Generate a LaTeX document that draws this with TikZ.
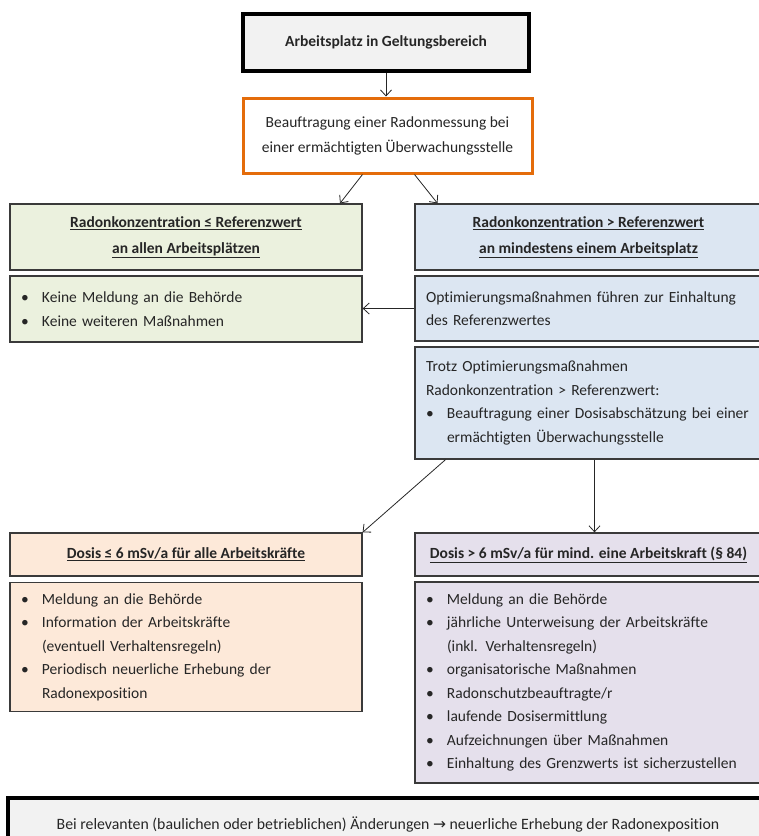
\documentclass[tikz,border=0pt]{standalone}
\usepackage{fontspec}
\setmainfont{Carlito}[Ligatures={NoCommon}]
\newfontfamily\dejavu{DejaVu Sans}
\usetikzlibrary{arrows.meta,calc}
\definecolor{greyfill}{HTML}{F2F2F2}
\definecolor{greenfill}{HTML}{EBF1DE}
\definecolor{bluefill}{HTML}{DCE6F2}
\definecolor{orangefill}{HTML}{FDE9D9}
\definecolor{purplefill}{HTML}{E5E0EC}
\definecolor{orangeline}{HTML}{E46C0A}
\definecolor{bline}{HTML}{3A3A3A}
\definecolor{txt}{HTML}{262626}
\newcommand{\itm}[1]{\makebox[21pt][l]{•}#1}
\newcommand{\cnt}[1]{\hspace*{21pt}#1}
\newcommand{\ul}[1]{\underline{#1}}
\begin{document}
\begin{tikzpicture}[x=1pt,y=-1pt,
  base/.style={draw=bline,line width=1.3pt,inner xsep=11pt,inner ysep=0pt,text=txt},
  hdr/.style={base,font=\fontsize{15.5}{26}\selectfont\bfseries,align=center},
  body/.style={base,font=\fontsize{15.5}{23.5}\selectfont,align=left},
  heavy/.style={draw=black,line width=3.2pt,fill=greyfill,text=txt,inner sep=0pt},
  arr/.style={-{Straight Barb[length=6pt,width=11pt]},line width=0.8pt,draw=black!85}
]
\useasboundingbox (0,0) rectangle (759,836);

\node[heavy,minimum width=286pt,minimum height=57pt,font=\fontsize{15.5}{18}\selectfont\bfseries] (top) at (386,42.5) {Arbeitsplatz in Geltungsbereich};

\node[draw=orangeline,line width=3pt,fill=white,text=txt,minimum width=289pt,minimum height=75pt,inner sep=0pt,align=center,font=\fontsize{15.5}{25}\selectfont] (meas) at (387.5,135.5) {Beauftragung einer Radonmessung bei\\einer ermächtigten Überwachungsstelle};

\node[hdr,fill=greenfill,minimum width=352pt,minimum height=66pt] (gH) at (186,237) {\ul{Radonkonzentration ≤ Referenzwert}\\\ul{an allen Arbeitsplätzen}};
\node[body,fill=greenfill,minimum width=352pt,minimum height=66pt,text width=330pt] (gB) at (186,309) {\itm{Keine Meldung an die Behörde}\\\itm{Keine weiteren Maßnahmen}};

\node[hdr,fill=bluefill,minimum width=347pt,minimum height=66pt] (bH) at (588.5,237) {\ul{Radonkonzentration > Referenzwert}\\\ul{an mindestens einem Arbeitsplatz}};
\node[body,fill=bluefill,minimum width=347pt,minimum height=65pt,text width=325pt] (b2) at (588.5,308.5) {Optimierungsmaßnahmen führen zur Einhaltung\\des Referenzwertes};
\node[body,fill=bluefill,minimum width=347pt,minimum height=112pt,text width=325pt] (b3) at (588.5,403) {Trotz Optimierungsmaßnahmen\\Radonkonzentration > Referenzwert:\\\itm{Beauftragung einer Dosisabschätzung bei einer}\\\cnt{ermächtigten Überwachungsstelle}};

\node[hdr,fill=orangefill,minimum width=352pt,minimum height=43pt] (oH) at (186,554.5) {\ul{Dosis ≤ 6 mSv/a für alle Arbeitskräfte}};
\node[body,fill=orangefill,minimum width=352pt,minimum height=129pt,text width=330pt] (oB) at (186,647) {\itm{Meldung an die Behörde}\\\itm{Information der Arbeitskräfte}\\\cnt{(eventuell Verhaltensregeln)}\\\itm{Periodisch neuerliche Erhebung der}\\\cnt{Radonexposition}};

\node[hdr,fill=purplefill,minimum width=347pt,minimum height=43pt] (pH) at (588.5,554.5) {\ul{Dosis > 6 mSv/a für mind. eine Arbeitskraft (§ 84)}};
\node[body,fill=purplefill,minimum width=347pt,minimum height=201pt,text width=325pt] (pB) at (588.5,682.5) {\itm{Meldung an die Behörde}\\\itm{jährliche Unterweisung der Arbeitskräfte}\\\cnt{(inkl. Verhaltensregeln)}\\\itm{organisatorische Maßnahmen}\\\itm{Radonschutzbeauftragte/r}\\\itm{laufende Dosisermittlung}\\\itm{Aufzeichnungen über Maßnahmen}\\\itm{Einhaltung des Grenzwerts ist sicherzustellen}};

\node[heavy,minimum width=760pt,minimum height=53pt,font=\fontsize{15.8}{18}\selectfont] (bot) at (388,824.5) {Bei relevanten (baulichen oder betrieblichen) Änderungen {\dejavu\fontsize{15.5}{18}\selectfont →} neuerliche Erhebung der Radonexposition};

\draw[arr] (top.south) -- (top.south |- meas.north);
\draw[arr] ([xshift=-25pt]meas.south) -- ([xshift=154pt]gH.north);
\draw[arr] ([xshift=27pt]meas.south) -- ([xshift=-151pt]bH.north);
\draw[arr] (b2.west) -- (b2.west -| gB.east);
\draw[arr] ([xshift=-143pt]b3.south) -- (oH.north east);
\draw[arr] ([xshift=6pt]b3.south) -- ([xshift=6pt]pH.north);
\end{tikzpicture}
\end{document}
